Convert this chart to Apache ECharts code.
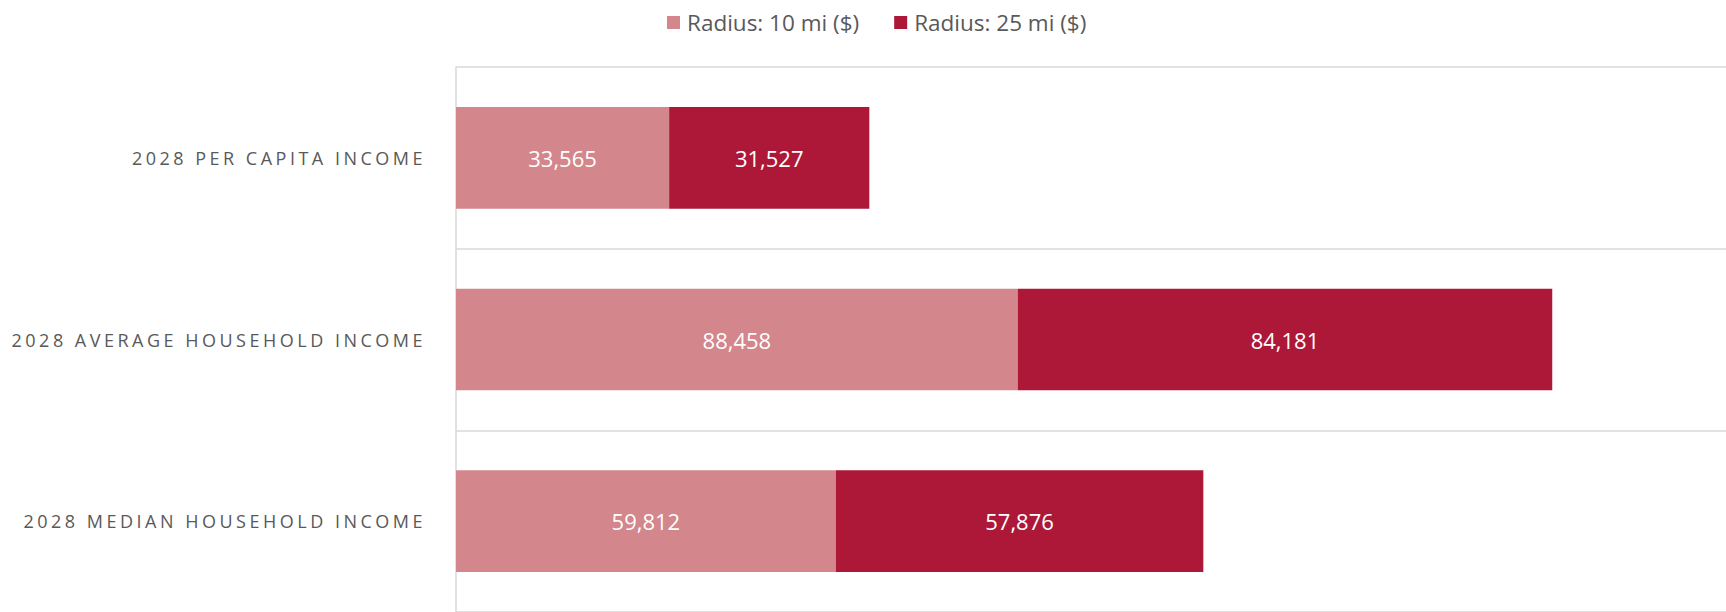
<!DOCTYPE html>
<html>
<head>
<meta charset="utf-8">
<script src="https://cdn.jsdelivr.net/npm/echarts@6/dist/echarts.min.js"></script>
<style>
  html, body { margin: 0; padding: 0; background: #fff; }
  #chart { width: 1726px; height: 612px; }
</style>
</head>
<body>
<div id="chart"></div>
<script>
const categories = ["2028 PER CAPITA INCOME", "2028 AVERAGE HOUSEHOLD INCOME", "2028 MEDIAN HOUSEHOLD INCOME"];
const seriesNames = ["Radius: 10 mi ($)", "Radius: 25 mi ($)"];
const radius10 = [33565, 88458, 59812];
const radius25 = [31527, 84181, 57876];
const colors = ["#d3868b", "#ad1838"];

const dom = document.getElementById('chart');
const myChart = echarts.init(dom, null, { renderer: 'svg' });

function money(p) {
    return p.value.toLocaleString('en-US');
}

const option = {
    animation: false,
    color: colors,
    textStyle: { fontFamily: 'Open Sans' },
    legend: {
        top: 6,
        left: 662,
        itemWidth: 13,
        itemHeight: 13,
        itemGap: 35,
        icon: 'rect',
        textStyle: { fontSize: 22.5, color: '#595959', fontFamily: 'Open Sans', padding: [0, 0, 0, 2] },
        data: seriesNames
    },
    grid: { left: 456, right: 0, top: 67, bottom: 0 },
    xAxis: {
        type: 'value',
        min: 0,
        max: 200000,
        show: false
    },
    yAxis: {
        type: 'category',
        inverse: true,
        data: categories,
        axisTick: { show: false },
        axisLine: { show: true, lineStyle: { color: '#d9d9d9', width: 1.5 } },
        splitLine: { show: true, lineStyle: { color: '#d9d9d9', width: 1.5 } },
        axisLabel: { margin: 30, fontSize: 18, color: '#595959', fontFamily: 'Open Sans' }
    },
    series: [
        {
            name: seriesNames[0],
            type: 'bar',
            stack: 'inc',
            barWidth: '56%',
            data: radius10,
            label: { show: true, position: 'inside', color: '#fff', fontSize: 22, formatter: money }
        },
        {
            name: seriesNames[1],
            type: 'bar',
            stack: 'inc',
            barWidth: '56%',
            data: radius25,
            label: { show: true, position: 'inside', color: '#fff', fontSize: 22, formatter: money }
        }
    ]
};

myChart.setOption(option);

// letter spacing on the category labels
function spaceLabels() {
    dom.querySelectorAll('text').forEach(function (t) {
        if (categories.indexOf(t.textContent) >= 0) {
            t.style.letterSpacing = '3.5px';
        }
    });
}
myChart.on('finished', spaceLabels);
spaceLabels();
</script>
</body>
</html>
